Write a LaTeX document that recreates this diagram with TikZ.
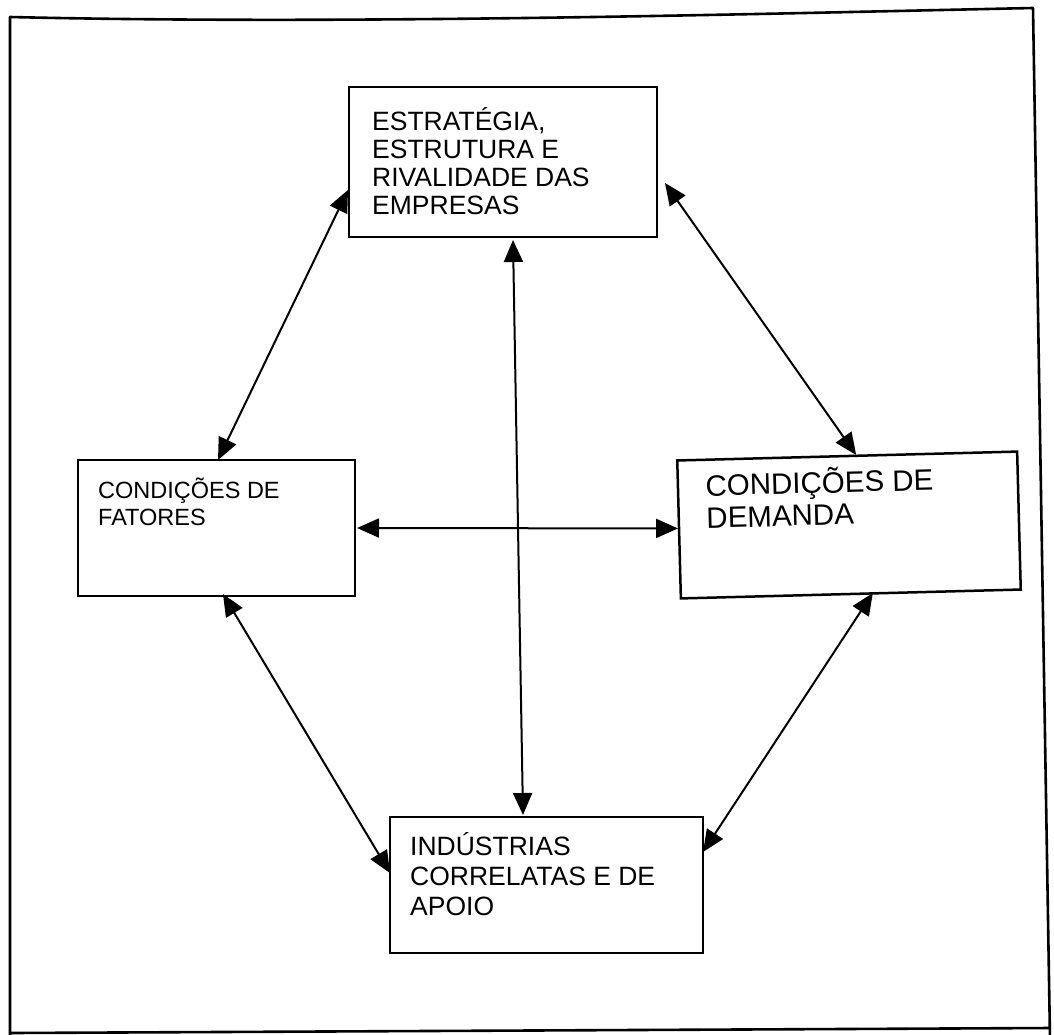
\documentclass[tikz,border=0pt]{standalone}
\usepackage{fontspec}
\setmainfont{Liberation Sans}
\usetikzlibrary{arrows.meta,calc}

\begin{document}
\begin{tikzpicture}[x=1pt,y=-1pt,
  frame/.style={line width=2.6pt,line join=round},
  box/.style={draw,line width=2.5pt,rectangle,inner sep=0pt,outer sep=0pt,fill=white},
  boxtext/.style={anchor=north west,inner sep=0pt,align=left},
  link/.style={line width=2pt,{Triangle[length=22pt,width=19pt]}-{Triangle[length=22pt,width=19pt]}}
]
\useasboundingbox (0,0) rectangle (1054,1034);

% outer frame
\draw[frame] (10,1040) -- (10,17) .. controls (350,25) and (750,14) .. (1033,8) -- (1050,1040);
\draw[frame] (10,1033) -- (1050,1028);

% the four determinants
\node[box,minimum width=308pt,minimum height=150pt] (strat) at (503,162) {};
\node[box,minimum width=277pt,minimum height=136pt] (fat) at (216.5,528) {};
\node[box,minimum width=340pt,minimum height=138pt,rotate=1.5] (dem) at (849,525) {};
\node[box,minimum width=313pt,minimum height=136pt] (ind) at (546.5,885) {};

% labels
\node[boxtext,font=\fontsize{26.5}{28}\selectfont] (stratlbl) at (372,107)
  {ESTRATÉGIA,\\ESTRUTURA E\\RIVALIDADE DAS\\EMPRESAS};
\node[boxtext,font=\fontsize{23.5}{27}\selectfont] (fatlbl) at (98,478)
  {CONDIÇÕES DE\\FATORES};
\node[boxtext,rotate=1.5,font=\fontsize{29.5}{32}\selectfont] (demlbl) at (705,470)
  {CONDIÇÕES DE\\DEMANDA};
\node[boxtext,font=\fontsize{26.5}{30}\selectfont] (indlbl) at (410,832)
  {INDÚSTRIAS\\CORRELATAS E DE\\APOIO};

% connector end points on the box borders
\coordinate (s1) at ([xshift=-1pt,yshift=47pt]strat.south west);
\coordinate (f1) at ([xshift=140pt]fat.north west);
\coordinate (s2) at ([xshift=8pt,yshift=54pt]strat.south east);
\coordinate (d1) at ([xshift=9pt,yshift=1pt]dem.north);
\coordinate (s3) at ([xshift=10pt,yshift=-3pt]strat.south);
\coordinate (i1) at ([xshift=-23.5pt,yshift=2pt]ind.north);
\coordinate (f2) at ([xshift=2pt]fat.east);
\coordinate (d2) at ([xshift=-1pt,yshift=1pt]dem.west);
\coordinate (f3) at ([xshift=145pt,yshift=2pt]fat.south west);
\coordinate (i2) at ([yshift=12pt]ind.west);
\coordinate (d3) at ([xshift=22pt,yshift=1pt]dem.south);
\coordinate (i3) at ([yshift=33pt]ind.east);

% mutual influences
\draw[link] (f1) -- (s1);
\draw[link] (s2) -- (d1);
\draw[link] (s3) -- (i1);
\draw[link] (f2) -- (d2);
\draw[link] (f3) -- (i2);
\draw[link] (d3) -- (i3);
\end{tikzpicture}
\end{document}
